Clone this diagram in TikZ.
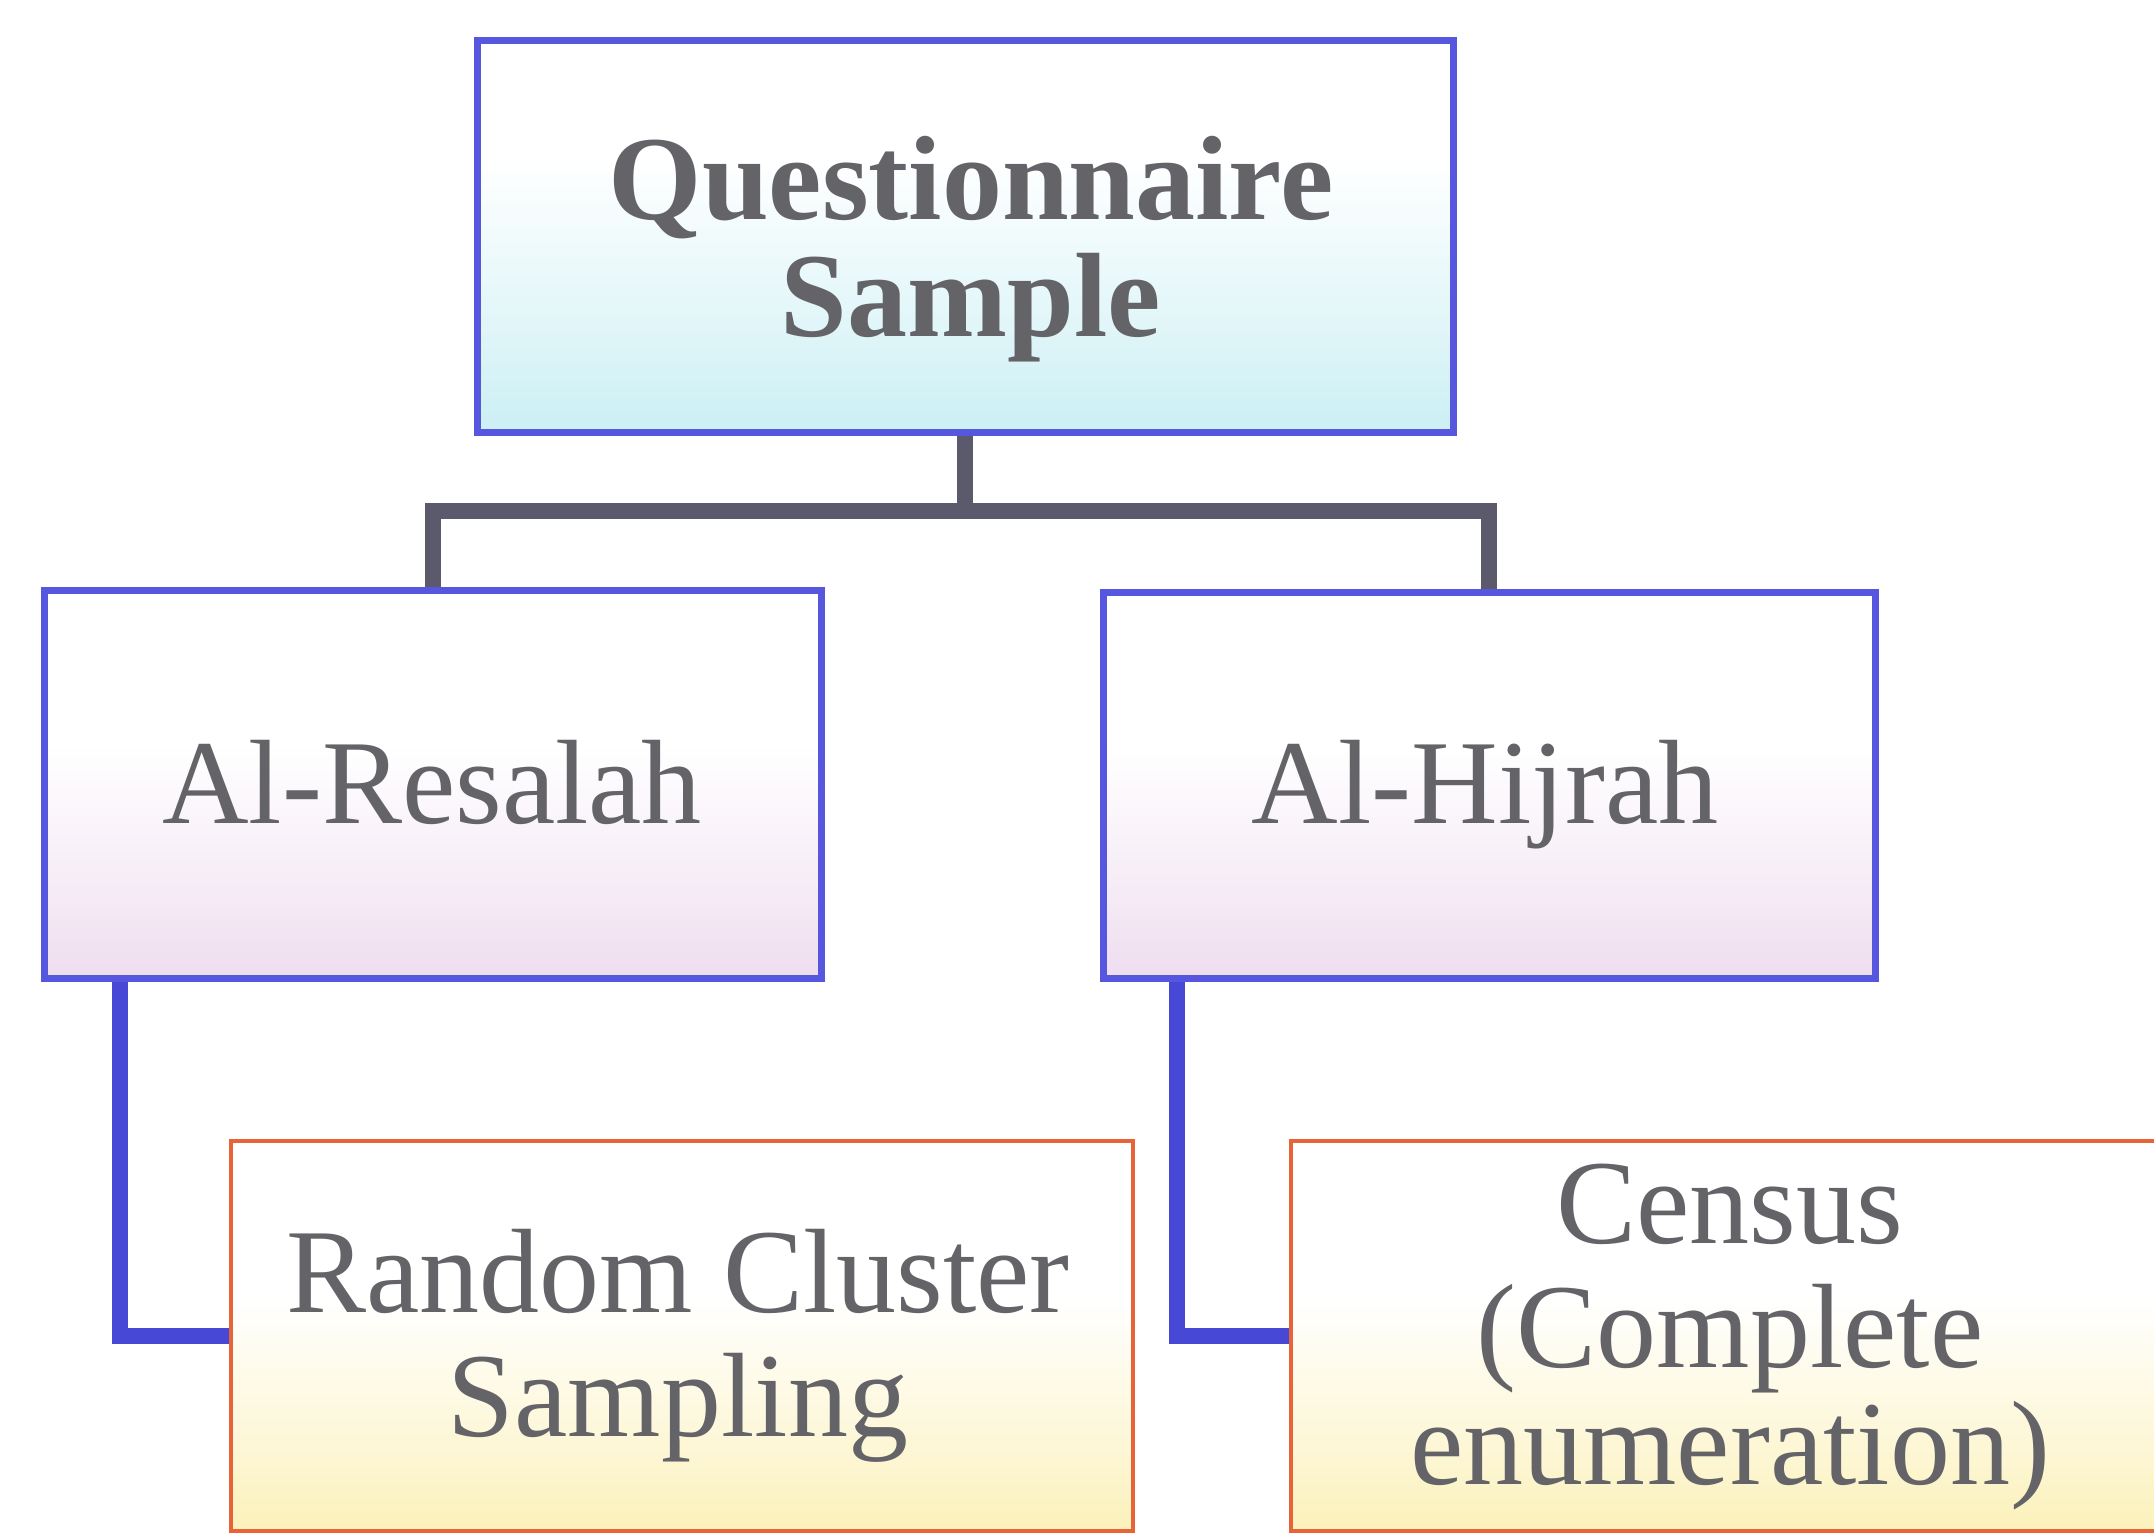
\documentclass[tikz,border=0pt]{standalone}
\usepackage{fontspec}
\setmainfont{Liberation Serif}
\definecolor{boxblue}{RGB}{86,86,222}
\definecolor{conngray}{RGB}{90,90,108}
\definecolor{connblue}{RGB}{72,72,214}
\definecolor{boxred}{RGB}{232,100,56}
\definecolor{txtgray}{RGB}{100,100,104}
\definecolor{fillcyan}{RGB}{192,236,242}
\definecolor{fillpink}{RGB}{232,208,234}
\definecolor{fillyellow}{RGB}{250,236,160}
\pgfdeclareverticalshading{cyanfade}{100bp}{color(0bp)=(fillcyan); color(18bp)=(fillcyan); color(40bp)=(fillcyan!45!white); color(60bp)=(white); color(100bp)=(white)}
\pgfdeclareverticalshading{pinkfade}{100bp}{color(0bp)=(fillpink); color(15bp)=(fillpink); color(35bp)=(fillpink!45!white); color(55bp)=(white); color(100bp)=(white)}
\pgfdeclareverticalshading{yellowfade}{100bp}{color(0bp)=(fillyellow); color(15bp)=(fillyellow); color(35bp)=(fillyellow!45!white); color(55bp)=(white); color(100bp)=(white)}
\begin{document}
\begin{tikzpicture}[x=0.5pt,y=-0.5pt,
  basebox/.style={rectangle, inner sep=0pt},
  topbox/.style={basebox, draw=boxblue, line width=3.5pt, shading=cyanfade},
  midbox/.style={basebox, draw=boxblue, line width=3.5pt, shading=pinkfade},
  lowbox/.style={basebox, draw=boxred, line width=1.8pt, shading=yellowfade},
  connA/.style={draw=conngray, line width=8pt},
  connB/.style={draw=connblue, line width=8pt},
  txt/.style={text=txtgray, inner sep=0pt, anchor=base, font=\fontsize{60}{60}\selectfont},
  txtb/.style={txt, font=\fontsize{60}{60}\selectfont\bfseries}]
\useasboundingbox (0,0) rectangle (2154,1534);
\clip (0,0) rectangle (2154,1534);
\fill[white] (0,0) rectangle (2154,1534);
% coordinates for connector routing
\coordinate (bar) at (965,511);
\coordinate (lx) at (120,0);
\coordinate (rx) at (1177,0);
% boxes
\node[topbox, minimum width=488pt, minimum height=196pt] (top) at (965,237) {};
\node[midbox, minimum width=388.5pt, minimum height=193.5pt] (left) at (432.5,784.5) {};
\node[midbox, minimum width=386pt, minimum height=192.5pt] (right) at (1489,785.5) {};
\node[lowbox, minimum width=451pt, minimum height=195pt] (bl) at (682,1336) {};
\node[lowbox, minimum width=444.5pt, minimum height=195pt] (br) at (1735.5,1336) {};
% connectors
\draw[connA] (top.south) -- (bar);
\draw[connA] (left.north) |- (bar) -| (right.north);
\draw[connB] (left.south -| lx) |- (bl.west);
\draw[connB] (right.south -| rx) |- (br.west);
% texts
\node[txtb] (q1) at (971,220) {Questionnaire};
\node[txtb] (q2) at (971,337) {Sample};
\node[txt] (ar) at (432,824) {Al-Resalah};
\node[txt] (ah) at (1485,824) {Al-Hijrah};
\node[txt] (rc1) at (678,1312) {Random Cluster};
\node[txt] (rc2) at (678,1436) {Sampling};
\node[txt] (c1) at (1730,1243) {Census};
\node[txt] (c2) at (1730,1367) {(Complete};
\node[txt] (c3) at (1730,1484) {enumeration)};
\end{tikzpicture}
\end{document}
